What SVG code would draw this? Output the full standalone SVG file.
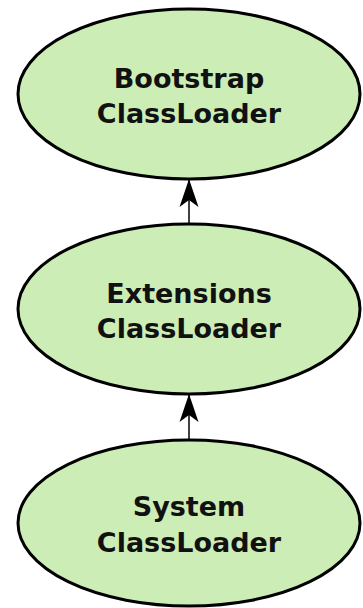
<svg xmlns="http://www.w3.org/2000/svg" width="363" height="608" viewBox="0 0 363 608">
<defs>
<style>
.node ellipse{fill:#cdedb7;stroke:#000;stroke-width:3}
.node text{font-family:"DejaVu Sans",sans-serif;font-weight:bold;font-size:27px;text-anchor:middle;fill:#111}
.edge{stroke:#000;stroke-width:1.5;fill:none}
</style>
<marker id="arr" viewBox="0 0 30 20" refX="29" refY="10" markerWidth="30" markerHeight="20" markerUnits="userSpaceOnUse" orient="auto">
<path d="M30 10 L2 19.5 L9 10 L2 0.5 Z" fill="#000"/>
</marker>
</defs>
<rect width="363" height="608" fill="#fff"/>
<g id="edges">
<path class="edge" d="M189 223 V180" marker-end="url(#arr)"/>
<path class="edge" d="M189 441 V395" marker-end="url(#arr)"/>
</g>
<g id="bootstrap" class="node">
<ellipse cx="189" cy="94" rx="171" ry="85"/>
<text x="189" y="88">Bootstrap</text>
<text x="189" y="123">ClassLoader</text>
</g>
<g id="extensions" class="node">
<ellipse cx="189" cy="309" rx="171" ry="85"/>
<text x="189" y="303">Extensions</text>
<text x="189" y="338">ClassLoader</text>
</g>
<g id="system" class="node">
<ellipse cx="189" cy="523" rx="171" ry="83"/>
<text x="189" y="516">System</text>
<text x="189" y="552">ClassLoader</text>
</g>
</svg>
